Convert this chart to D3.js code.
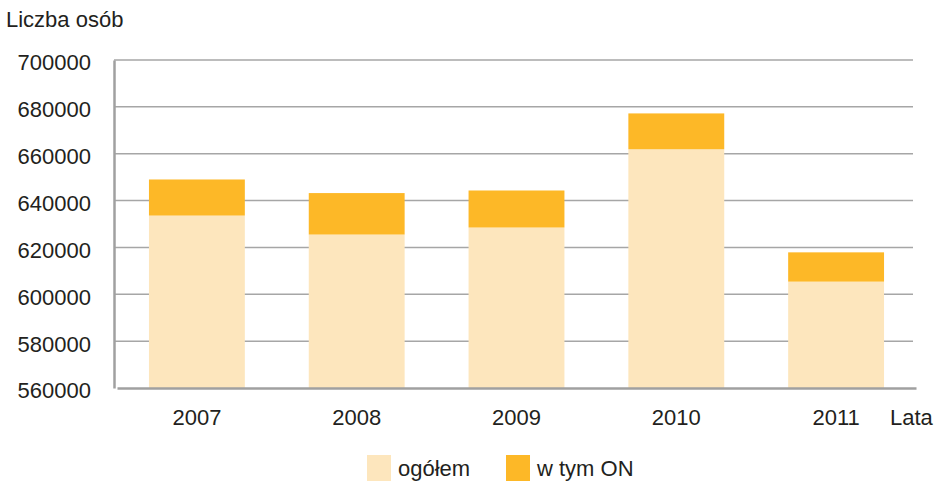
<!DOCTYPE html>
<html>
<head>
<meta charset="utf-8">
<script src="https://cdn.jsdelivr.net/npm/d3@7"></script>
<style>
  body { margin: 0; background: #fff; }
  svg text { font-family: "Liberation Sans", Arial, sans-serif; fill: #231f20; }
</style>
</head>
<body>
<div id="chart"></div>
<script>
// values
const years = ["2007", "2008", "2009", "2010", "2011"];
const ogolem = [633600, 625500, 628500, 661900, 605400];
const wTymON = [15400, 17700, 15800, 15300, 12500];
const yTicks = [560000, 580000, 600000, 620000, 640000, 660000, 680000, 700000];

const W = 935, H = 482;
const margin = { top: 60, right: 22, bottom: 94, left: 114 };
const width = W - margin.left - margin.right;
const height = H - margin.top - margin.bottom;

const svg = d3.select("#chart").append("svg")
  .attr("width", W)
  .attr("height", H);

const g = svg.append("g")
  .attr("transform", `translate(${margin.left},${margin.top})`);

const x = d3.scaleBand()
  .domain(years)
  .range([3, width + 3])
  .paddingInner(0.4)
  .paddingOuter(0.2);

const y = d3.scaleLinear()
  .domain([560000, 700000])
  .range([height, 0]);

// gridlines
g.append("g")
  .selectAll("line")
  .data(yTicks.slice(1))
  .enter()
  .append("line")
  .attr("x1", 0)
  .attr("x2", width)
  .attr("y1", d => y(d))
  .attr("y2", d => y(d))
  .attr("stroke", "#a6a6a6")
  .attr("stroke-width", 1.5);

// stacked bars
const rows = years.map((yr, i) => ({ year: yr, ogolem: ogolem[i], on: wTymON[i] }));

g.selectAll(".bar-ogolem")
  .data(rows)
  .enter()
  .append("rect")
  .attr("class", "bar-ogolem")
  .attr("x", d => x(d.year))
  .attr("width", x.bandwidth())
  .attr("y", d => y(d.ogolem))
  .attr("height", d => y(560000) - y(d.ogolem))
  .attr("fill", "#fde6bd");

g.selectAll(".bar-on")
  .data(rows)
  .enter()
  .append("rect")
  .attr("class", "bar-on")
  .attr("x", d => x(d.year))
  .attr("width", x.bandwidth())
  .attr("y", d => y(d.ogolem + d.on))
  .attr("height", d => y(d.ogolem) - y(d.ogolem + d.on))
  .attr("fill", "#fdb827");

// axes
const yAxis = g.append("g")
  .call(d3.axisLeft(y).tickValues(yTicks).tickSize(0).tickPadding(23).tickFormat(d3.format("d")));
yAxis.select(".domain").attr("stroke", "#a0a0a0").attr("stroke-width", 2.5);
yAxis.selectAll("text")
  .attr("font-size", 22)
  .attr("dy", "0.45em");

const xAxis = g.append("g")
  .attr("transform", `translate(0,${height})`)
  .call(d3.axisBottom(x).tickSize(0).tickPadding(21));
xAxis.select(".domain").attr("stroke", "#a0a0a0").attr("stroke-width", 2.5);
xAxis.selectAll("text")
  .attr("font-size", 22)
  .attr("dy", "0.71em");

svg.selectAll(".tick text").attr("font-family", null);

// axis titles
svg.append("text")
  .attr("x", 6)
  .attr("y", 27)
  .attr("font-size", 22)
  .text("Liczba osób");

svg.append("text")
  .attr("x", 890)
  .attr("y", 425)
  .attr("font-size", 22)
  .text("Lata");

// legend
const legendItems = [
  { label: "ogółem", color: "#fde6bd", x: 367 },
  { label: "w tym ON", color: "#fdb827", x: 506 }
];
const legend = svg.append("g");
legend.selectAll("rect")
  .data(legendItems)
  .enter()
  .append("rect")
  .attr("x", d => d.x)
  .attr("y", 455)
  .attr("width", 24)
  .attr("height", 26)
  .attr("fill", d => d.color);
legend.selectAll("text")
  .data(legendItems)
  .enter()
  .append("text")
  .attr("x", d => d.x + 31)
  .attr("y", 476)
  .attr("font-size", 22)
  .text(d => d.label);
</script>
</body>
</html>
